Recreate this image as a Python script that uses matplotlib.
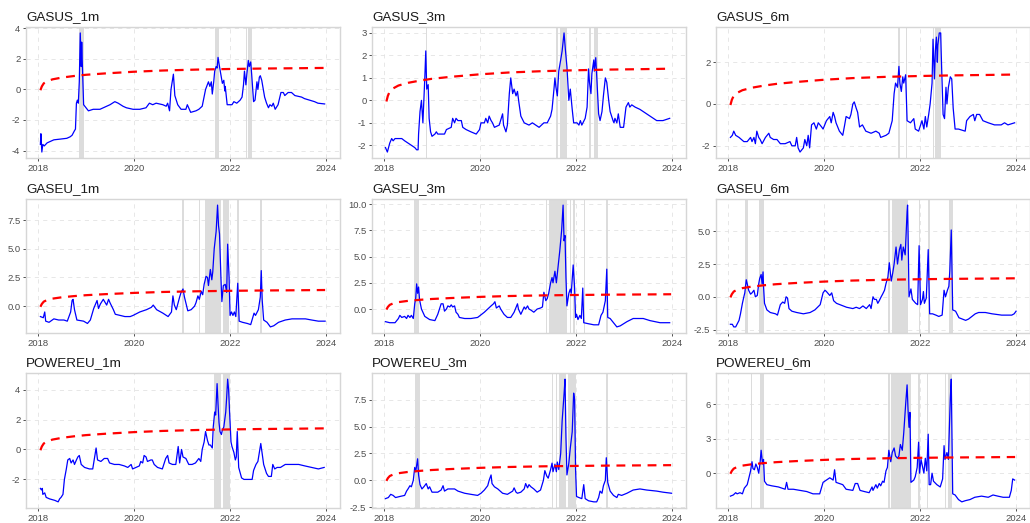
import matplotlib
matplotlib.use("Agg")
from matplotlib import pyplot as plt

plt.rcParams["font.family"] = ["Liberation Sans", "DejaVu Sans"]
plt.rcParams["axes.unicode_minus"] = False

# critical value sequence (shared by all series)
cv_t = [2018.05, 2018.08, 2018.12, 2018.18, 2018.30, 2018.50, 2018.75, 2019.00,
        2019.40, 2020.00, 2020.60, 2021.30, 2022.00, 2022.70, 2023.40, 2023.98]
cv_v = [-0.05, 0.20, 0.40, 0.52, 0.66, 0.78, 0.88, 0.96,
        1.05, 1.16, 1.24, 1.30, 1.34, 1.37, 1.39, 1.41]

# ---- GASUS_1m
gasus_1m_t = [2018.05, 2018.06, 2018.08, 2018.10, 2018.13, 2018.19, 2018.33, 2018.47, 2018.60, 2018.67,
              2018.71, 2018.76, 2018.78, 2018.80, 2018.82, 2018.84, 2018.86, 2018.88, 2018.90, 2018.91,
              2018.93, 2018.95, 2019.05, 2019.15, 2019.29, 2019.36, 2019.50, 2019.60, 2019.67, 2019.77,
              2019.84, 2019.98, 2020.12, 2020.25, 2020.32, 2020.39, 2020.46, 2020.60, 2020.67, 2020.70,
              2020.74, 2020.77, 2020.82, 2020.85, 2020.91, 2020.98, 2021.08, 2021.11, 2021.18, 2021.29,
              2021.35, 2021.42, 2021.49, 2021.55, 2021.58, 2021.61, 2021.63, 2021.66, 2021.68, 2021.71,
              2021.73, 2021.75, 2021.78, 2021.84, 2021.87, 2021.89, 2021.90, 2021.94, 2022.04, 2022.08,
              2022.14, 2022.21, 2022.25, 2022.28, 2022.30, 2022.33, 2022.35, 2022.38, 2022.40, 2022.43,
              2022.45, 2022.49, 2022.52, 2022.56, 2022.58, 2022.61, 2022.63, 2022.66, 2022.72, 2022.76,
              2022.80, 2022.83, 2022.87, 2022.90, 2022.94, 2023.00, 2023.06, 2023.11, 2023.14, 2023.21,
              2023.28, 2023.35, 2023.49, 2023.55, 2023.76, 2023.83, 2023.97]
gasus_1m_v = [-3.6, -2.9, -4.1, -3.6, -3.7, -3.5, -3.3, -3.25, -3.2, -3.1,
              -3.0, -2.7, -2.6, -0.9, -0.7, -0.9, 0.5, 3.7, 1.5, 3.1,
              1.0, -1.0, -1.4, -1.3, -1.3, -1.2, -1.0, -0.8, -0.9, -1.1,
              -1.2, -1.3, -1.3, -1.2, -0.9, -1.0, -0.9, -1.0, -1.1, -0.9,
              -1.4, 0.0, 1.0, -0.4, -1.0, -1.3, -1.3, -1.0, -1.5, -1.4,
              -1.3, -1.1, 0.0, 0.5, 0.2, 0.5, -0.3, 0.5, 1.2, 1.5,
              1.4, 2.1, 1.5, 0.4, 0.6, -0.1, 0.2, -1.0, -1.0, -0.8,
              -0.9, -0.7, -0.5, 0.3, 1.2, 0.3, 1.0, 1.9, 1.5, 1.8,
              1.0, -0.8, -0.7, 0.5, 0.0, 0.8, 0.9, 0.6, -0.5, -0.9,
              -1.2, -1.0, -1.1, -0.9, -1.3, -1.0, -0.2, -0.2, -0.4, -0.2,
              -0.2, -0.4, -0.5, -0.6, -0.8, -0.9, -0.95]
gasus_1m_spans = [(2018.85, 2018.95), (2021.69, 2021.78), (2022.33, 2022.36), (2022.38, 2022.45)]

# ---- GASUS_3m
gasus_3m_t = [2018.03, 2018.07, 2018.12, 2018.16, 2018.19, 2018.23, 2018.30, 2018.37, 2018.43, 2018.50,
              2018.57, 2018.64, 2018.68, 2018.71, 2018.72, 2018.75, 2018.78, 2018.81, 2018.83, 2018.85,
              2018.87, 2018.89, 2018.92, 2018.94, 2018.97, 2019.00, 2019.06, 2019.09, 2019.12, 2019.26,
              2019.30, 2019.40, 2019.43, 2019.47, 2019.50, 2019.54, 2019.61, 2019.64, 2019.71, 2019.81,
              2019.92, 2019.99, 2020.02, 2020.09, 2020.12, 2020.16, 2020.19, 2020.23, 2020.26, 2020.30,
              2020.40, 2020.47, 2020.49, 2020.54, 2020.57, 2020.61, 2020.64, 2020.68, 2020.71, 2020.75,
              2020.78, 2020.81, 2020.85, 2020.92, 2021.02, 2021.09, 2021.16, 2021.23, 2021.33, 2021.40,
              2021.47, 2021.50, 2021.54, 2021.56, 2021.58, 2021.61, 2021.64, 2021.68, 2021.71, 2021.73,
              2021.75, 2021.78, 2021.81, 2021.85, 2021.88, 2021.92, 2021.95, 2022.02, 2022.06, 2022.09,
              2022.12, 2022.19, 2022.23, 2022.26, 2022.28, 2022.31, 2022.33, 2022.37, 2022.38, 2022.41,
              2022.43, 2022.47, 2022.50, 2022.54, 2022.57, 2022.61, 2022.64, 2022.68, 2022.71, 2022.77,
              2022.79, 2022.81, 2022.85, 2022.88, 2022.92, 2022.99, 2023.04, 2023.09, 2023.12, 2023.16,
              2023.23, 2023.33, 2023.47, 2023.68, 2023.81, 2023.95]
gasus_3m_v = [-2.1, -2.3, -1.9, -1.7, -1.8, -1.7, -1.7, -1.7, -1.8, -1.9,
              -2.0, -2.1, -2.2, -2.2, -1.5, -0.5, 0.0, -1.0, 0.0, 1.0,
              2.2, 0.5, 0.7, -0.8, -1.4, -1.6, -1.5, -1.4, -1.5, -1.5,
              -1.3, -1.2, -0.8, -1.0, -0.8, -0.9, -0.9, -1.2, -1.3, -1.4,
              -1.5, -1.3, -1.0, -1.0, -0.8, -1.0, -0.7, -0.9, -1.0, -1.2,
              -1.1, -0.6, -1.1, -1.4, -1.1, 0.3, 1.0, 0.3, 0.5, 0.2,
              0.4, -0.1, -0.7, -1.0, -1.1, -1.0, -1.1, -1.2, -1.0, -1.0,
              -0.7, -0.4, 0.5, 1.0, 0.6, 0.2, 1.3, 1.8, 2.2, 2.6,
              3.0, 2.2, 1.5, 0.0, 0.5, -0.4, -1.0, -1.0, -1.1, -0.9,
              -1.1, -0.8, -0.3, 1.4, 0.8, 0.3, 1.2, 1.8, 1.3, 1.9,
              1.1, -0.6, -0.9, -0.5, 0.2, 1.0, 0.8, 0.0, -0.5, -0.9,
              -1.0, -0.8, -1.0, -0.6, -1.2, -1.2, -0.3, -0.1, -0.3, -0.2,
              -0.3, -0.4, -0.6, -0.9, -0.9, -0.8]
gasus_3m_spans = [(2018.87, 2018.90), (2021.59, 2021.63), (2021.66, 2021.81),
                  (2022.28, 2022.31), (2022.38, 2022.45)]

# ---- GASUS_6m
gasus_6m_t = [2018.05, 2018.09, 2018.12, 2018.16, 2018.23, 2018.33, 2018.40, 2018.47, 2018.50, 2018.54,
              2018.57, 2018.60, 2018.64, 2018.67, 2018.71, 2018.78, 2018.85, 2018.88, 2018.95, 2019.02,
              2019.09, 2019.19, 2019.29, 2019.33, 2019.40, 2019.43, 2019.46, 2019.50, 2019.57, 2019.60,
              2019.64, 2019.67, 2019.70, 2019.74, 2019.79, 2019.84, 2019.88, 2019.95, 2019.98, 2020.05,
              2020.12, 2020.15, 2020.19, 2020.22, 2020.25, 2020.32, 2020.39, 2020.43, 2020.46, 2020.53,
              2020.56, 2020.60, 2020.63, 2020.67, 2020.70, 2020.74, 2020.80, 2020.87, 2020.98, 2021.08,
              2021.15, 2021.18, 2021.29, 2021.35, 2021.42, 2021.46, 2021.49, 2021.53, 2021.56, 2021.58,
              2021.61, 2021.64, 2021.66, 2021.70, 2021.73, 2021.80, 2021.87, 2021.90, 2021.97, 2022.04,
              2022.08, 2022.11, 2022.14, 2022.18, 2022.21, 2022.25, 2022.27, 2022.30, 2022.32, 2022.34,
              2022.36, 2022.37, 2022.40, 2022.43, 2022.44, 2022.45, 2022.48, 2022.51, 2022.54, 2022.56,
              2022.59, 2022.63, 2022.66, 2022.69, 2022.73, 2022.80, 2022.94, 2022.97, 2023.04, 2023.11,
              2023.14, 2023.18, 2023.24, 2023.31, 2023.42, 2023.55, 2023.69, 2023.76, 2023.83, 2023.97]
gasus_6m_v = [-1.6, -1.5, -1.3, -1.5, -1.6, -1.8, -1.8, -1.6, -1.8, -1.6,
              -1.9, -1.3, -1.6, -1.7, -1.9, -1.6, -1.4, -1.6, -1.7, -1.7,
              -1.9, -1.9, -1.8, -2.0, -2.0, -1.6, -2.1, -2.3, -2.1, -1.7,
              -2.0, -1.5, -2.1, -1.0, -0.9, -1.2, -0.9, -1.1, -1.2, -0.8,
              -0.6, -0.9, -0.4, -0.6, -0.9, -1.3, -1.5, -1.0, -0.6, -0.7,
              -0.5, 0.0, 0.1, -0.2, -0.4, -1.1, -1.0, -1.3, -1.4, -1.3,
              -1.4, -1.6, -1.5, -1.4, -0.8, 0.5, 1.0, 0.8, 1.8, 1.0,
              0.6, 1.3, 1.0, 1.4, -0.8, -0.9, -0.7, -1.2, -1.3, -0.8,
              -1.2, -0.6, -1.1, -0.5, 0.0, 1.0, 3.1, 1.2, 2.6, 3.2,
              2.0, 2.8, 3.4, 3.4, 2.5, 1.7, -0.5, -0.7, 0.8, 0.0,
              0.8, 1.3, 1.2, -0.2, -1.2, -1.2, -1.3, -0.8, -0.6, -0.5,
              -0.8, -0.5, -0.5, -0.8, -0.9, -1.0, -1.0, -0.9, -1.0, -0.9]
gasus_6m_spans = [(2021.55, 2021.58), (2021.70, 2021.73), (2022.26, 2022.30), (2022.31, 2022.44)]

# ---- GASEU_1m
gaseu_1m_t = [2018.05, 2018.11, 2018.14, 2018.16, 2018.23, 2018.33, 2018.43, 2018.54, 2018.61, 2018.68,
              2018.71, 2018.73, 2018.76, 2018.81, 2018.95, 2019.03, 2019.09, 2019.16, 2019.23, 2019.26,
              2019.30, 2019.36, 2019.43, 2019.47, 2019.50, 2019.57, 2019.61, 2019.71, 2019.81, 2019.92,
              2019.98, 2020.12, 2020.26, 2020.36, 2020.40, 2020.47, 2020.60, 2020.71, 2020.78, 2020.81,
              2020.84, 2020.88, 2020.95, 2020.98, 2021.02, 2021.05, 2021.12, 2021.19, 2021.26, 2021.29,
              2021.33, 2021.36, 2021.40, 2021.43, 2021.46, 2021.50, 2021.53, 2021.55, 2021.59, 2021.62,
              2021.64, 2021.67, 2021.71, 2021.74, 2021.76, 2021.78, 2021.81, 2021.83, 2021.86, 2021.90,
              2021.93, 2021.95, 2021.98, 2022.00, 2022.03, 2022.06, 2022.09, 2022.12, 2022.16, 2022.19,
              2022.26, 2022.36, 2022.43, 2022.50, 2022.53, 2022.59, 2022.63, 2022.65, 2022.67, 2022.70,
              2022.77, 2022.84, 2022.91, 2023.01, 2023.15, 2023.29, 2023.43, 2023.57, 2023.70, 2023.84,
              2023.98]
gaseu_1m_v = [-0.9, -1.0, -0.5, -1.3, -1.4, -1.1, -1.2, -1.2, -1.3, -0.5,
              0.5, 0.6, -0.3, -1.2, -1.3, -1.5, -1.2, -0.2, 0.5, -0.2,
              0.2, 0.6, 0.1, 0.6, 0.3, -0.3, -0.7, -0.8, -0.9, -0.9,
              -0.8, -0.5, -0.3, -0.1, 0.1, -0.3, -0.6, -0.9, -0.5, 0.9,
              0.1, -0.3, 0.8, 1.2, 1.5, 0.8, -0.4, -0.3, 0.0, 0.3,
              0.9, 0.6, 1.3, 1.0, 1.9, 2.6, 2.5, 1.8, 3.2, 2.3,
              3.0, 5.0, 6.5, 8.8, 7.0, 6.3, 2.5, 0.4, 1.8, 1.9,
              1.2, 5.4, 2.5, -0.8, -0.5, -0.8, -0.5, -0.9, 2.0, -1.3,
              -1.4, -1.5, -1.6, -0.6, -0.8, -0.3, 0.8, 3.1, 0.5, -1.2,
              -1.4, -1.8, -1.7, -1.4, -1.2, -1.1, -1.1, -1.1, -1.2, -1.3,
              -1.3]
gaseu_1m_spans = [(2021.00, 2021.05), (2021.35, 2021.38), (2021.47, 2021.81),
                  (2021.86, 2021.97), (2022.15, 2022.18), (2022.63, 2022.66)]

# ---- GASEU_3m
gaseu_3m_t = [2018.03, 2018.12, 2018.23, 2018.30, 2018.33, 2018.37, 2018.43, 2018.47, 2018.50, 2018.54,
              2018.57, 2018.61, 2018.64, 2018.66, 2018.68, 2018.70, 2018.72, 2018.74, 2018.78, 2018.85,
              2018.95, 2019.06, 2019.12, 2019.19, 2019.23, 2019.26, 2019.30, 2019.33, 2019.37, 2019.40,
              2019.43, 2019.47, 2019.50, 2019.54, 2019.57, 2019.68, 2019.81, 2019.95, 2020.09, 2020.23,
              2020.28, 2020.31, 2020.34, 2020.40, 2020.43, 2020.50, 2020.57, 2020.64, 2020.71, 2020.78,
              2020.80, 2020.85, 2020.92, 2020.95, 2020.99, 2021.02, 2021.06, 2021.12, 2021.19, 2021.26,
              2021.30, 2021.33, 2021.37, 2021.40, 2021.43, 2021.47, 2021.50, 2021.52, 2021.56, 2021.59,
              2021.62, 2021.66, 2021.70, 2021.73, 2021.75, 2021.77, 2021.79, 2021.81, 2021.85, 2021.88,
              2021.90, 2021.94, 2021.97, 2021.99, 2022.01, 2022.04, 2022.08, 2022.11, 2022.14, 2022.16,
              2022.26, 2022.37, 2022.47, 2022.52, 2022.56, 2022.61, 2022.64, 2022.66, 2022.71, 2022.78,
              2022.85, 2022.92, 2023.06, 2023.19, 2023.40, 2023.54, 2023.75, 2023.95]
gaseu_3m_v = [-1.2, -1.3, -1.3, -0.9, -0.6, -0.8, -0.7, -0.9, -0.6, -0.8,
              -0.6, -0.9, 0.5, 1.0, 2.4, 1.5, 2.1, 0.9, 0.0, -0.7,
              -1.0, -1.1, -0.5, 0.5, 0.5, -0.2, 0.0, 0.3, 0.2, 0.4,
              0.2, 0.3, -0.3, -0.5, -0.8, -0.9, -0.9, -0.8, -0.3, 0.3,
              0.5, 0.7, 0.1, 0.3, 0.0, -0.5, -0.8, -0.8, -0.3, 0.5,
              0.0, -0.5, 0.2, 0.0, 0.3, 0.0, -0.1, -0.3, 0.0, 0.1,
              0.2, 1.6, 0.8, 1.0, 1.5, 2.5, 3.0, 2.5, 3.6, 2.5,
              3.8, 5.5, 7.5, 9.9, 6.5, 7.0, 3.0, 0.3, 1.5, 1.9,
              1.5, 4.2, 2.0, -0.8, -0.5, -1.0, -0.6, -0.9, 2.0, -1.3,
              -1.4, -1.5, -1.5, -0.6, -0.3, 0.8, 3.8, -0.8, -0.9, -1.3,
              -1.7, -1.6, -1.2, -0.9, -0.9, -1.1, -1.3, -1.3]
gaseu_3m_spans = [(2018.63, 2018.73), (2021.37, 2021.40), (2021.43, 2021.81), (2021.87, 2021.90),
                  (2021.93, 2021.98), (2022.16, 2022.19), (2022.62, 2022.66)]

# ---- GASEU_6m
gaseu_6m_t = [2018.05, 2018.09, 2018.12, 2018.16, 2018.23, 2018.26, 2018.30, 2018.33, 2018.35, 2018.38,
              2018.40, 2018.43, 2018.47, 2018.50, 2018.54, 2018.57, 2018.61, 2018.64, 2018.66, 2018.69,
              2018.71, 2018.73, 2018.74, 2018.76, 2018.81, 2018.88, 2018.99, 2019.03, 2019.09, 2019.14,
              2019.18, 2019.21, 2019.24, 2019.27, 2019.33, 2019.43, 2019.57, 2019.71, 2019.81, 2019.92,
              2019.98, 2020.02, 2020.05, 2020.12, 2020.16, 2020.20, 2020.26, 2020.33, 2020.47, 2020.60,
              2020.67, 2020.74, 2020.81, 2020.88, 2020.95, 2020.98, 2021.02, 2021.05, 2021.09, 2021.12,
              2021.15, 2021.19, 2021.22, 2021.26, 2021.29, 2021.33, 2021.36, 2021.40, 2021.43, 2021.46,
              2021.50, 2021.53, 2021.57, 2021.60, 2021.62, 2021.65, 2021.69, 2021.71, 2021.73, 2021.74,
              2021.75, 2021.77, 2021.81, 2021.84, 2021.91, 2021.95, 2021.98, 2022.01, 2022.05, 2022.07,
              2022.09, 2022.13, 2022.17, 2022.20, 2022.26, 2022.33, 2022.39, 2022.46, 2022.50, 2022.53,
              2022.57, 2022.60, 2022.62, 2022.65, 2022.68, 2022.74, 2022.81, 2022.88, 2022.95, 2023.01,
              2023.08, 2023.15, 2023.22, 2023.36, 2023.50, 2023.70, 2023.91, 2023.96, 2024.00]
gaseu_6m_v = [-2.1, -2.1, -2.3, -2.3, -1.8, -1.3, -0.5, 0.0, 0.3, 1.3,
              1.0, 0.5, 0.2, 0.3, 0.5, 0.0, 0.1, 1.0, 1.4, 1.7,
              1.0, 1.9, 0.8, -0.5, -1.0, -1.2, -1.3, -1.4, -0.6, -0.4,
              -0.5, 0.0, -0.1, -0.9, -1.1, -1.2, -1.3, -1.2, -1.0, -0.6,
              0.3, 0.5, 0.4, 0.1, 0.3, -0.3, -0.5, -0.6, -0.8, -0.9,
              -0.8, -0.9, -0.7, -0.9, -0.6, -0.9, 0.0, -0.2, -0.2, -0.5,
              -0.3, 0.0, 0.2, 0.5, 1.0, 1.5, 2.6, 1.2, 1.8, 2.5,
              3.8, 2.5, 3.6, 4.0, 2.8, 3.8, 3.2, 4.8, 6.5, 7.0,
              5.0, 0.0, 0.6, -0.2, -0.5, -0.6, 3.9, -0.6, -0.2, 0.4,
              -0.5, -0.1, 3.6, -1.3, -1.3, -1.4, -1.5, -1.4, 0.5, 0.0,
              0.5, 0.8, 2.0, 5.1, -1.0, -1.1, -1.6, -1.7, -1.8, -1.7,
              -1.5, -1.3, -1.2, -1.2, -1.3, -1.4, -1.4, -1.3, -1.1]
gaseu_6m_spans = [(2018.35, 2018.41), (2018.65, 2018.74), (2021.33, 2021.38), (2021.42, 2021.75),
                  (2021.97, 2022.00), (2022.17, 2022.20), (2022.61, 2022.68)]

# ---- POWEREU_1m
powereu_1m_t = [2018.05, 2018.07, 2018.09, 2018.10, 2018.14, 2018.17, 2018.24, 2018.35, 2018.42, 2018.45,
                2018.48, 2018.52, 2018.55, 2018.59, 2018.62, 2018.66, 2018.69, 2018.73, 2018.76, 2018.80,
                2018.83, 2018.86, 2018.90, 2018.97, 2019.07, 2019.14, 2019.18, 2019.21, 2019.24, 2019.31,
                2019.38, 2019.45, 2019.49, 2019.59, 2019.69, 2019.80, 2019.87, 2019.94, 2019.97, 2020.04,
                2020.11, 2020.14, 2020.18, 2020.21, 2020.25, 2020.28, 2020.35, 2020.38, 2020.42, 2020.49,
                2020.59, 2020.66, 2020.70, 2020.73, 2020.80, 2020.87, 2020.92, 2020.95, 2020.99, 2021.02,
                2021.08, 2021.14, 2021.21, 2021.28, 2021.35, 2021.39, 2021.42, 2021.46, 2021.49, 2021.53,
                2021.56, 2021.59, 2021.63, 2021.65, 2021.68, 2021.70, 2021.73, 2021.75, 2021.77, 2021.79,
                2021.82, 2021.84, 2021.87, 2021.91, 2021.93, 2021.95, 2021.97, 2021.99, 2022.02, 2022.04,
                2022.08, 2022.11, 2022.13, 2022.15, 2022.18, 2022.24, 2022.29, 2022.39, 2022.46, 2022.49,
                2022.54, 2022.58, 2022.62, 2022.64, 2022.67, 2022.70, 2022.76, 2022.80, 2022.86, 2022.89,
                2022.93, 2022.98, 2023.05, 2023.15, 2023.29, 2023.43, 2023.56, 2023.70, 2023.84, 2023.96]
powereu_1m_v = [-2.6, -2.7, -2.6, -3.0, -2.9, -3.2, -3.3, -3.4, -3.5, -3.3,
                -3.2, -3.0, -2.0, -1.3, -0.7, -0.6, -0.9, -0.7, -1.0, -0.7,
                -0.5, -0.4, -1.0, -1.2, -1.3, -1.3, -0.5, 0.1, -0.7, -0.8,
                -0.6, -0.6, -0.9, -1.0, -1.0, -1.1, -1.2, -1.0, -1.3, -1.2,
                -1.1, -0.8, -0.9, -0.4, -0.5, -0.8, -0.7, -0.7, -1.0, -1.2,
                -1.3, -0.6, -0.4, -0.9, -1.0, -1.0, 0.2, -0.9, 0.0, -0.5,
                -0.6, -1.0, -1.0, -0.9, -0.6, -0.8, 0.0, 0.5, 1.2, 0.6,
                0.3, 0.3, 0.1, 1.5, 2.5, 2.3, 4.4, 3.0, 1.8, 1.2,
                1.0, 1.3, 1.5, 2.5, 3.5, 4.7, 4.0, 2.5, 0.5, 0.2,
                -0.2, -0.7, -0.5, 1.2, -1.2, -1.9, -2.0, -2.0, -2.0, -1.4,
                -1.0, -0.8, 0.0, 0.4, -0.3, -1.0, -1.6, -1.8, -1.8, -1.0,
                -1.3, -1.2, -1.2, -1.0, -1.0, -1.0, -1.1, -1.2, -1.3, -1.2]
powereu_1m_spans = [(2021.67, 2021.81), (2021.86, 2021.99)]

# ---- POWEREU_3m
powereu_3m_t = [2018.03, 2018.09, 2018.14, 2018.19, 2018.24, 2018.33, 2018.43, 2018.47, 2018.50, 2018.54,
                2018.57, 2018.61, 2018.64, 2018.66, 2018.68, 2018.70, 2018.72, 2018.75, 2018.79, 2018.83,
                2018.88, 2018.92, 2018.95, 2019.00, 2019.12, 2019.19, 2019.23, 2019.26, 2019.33, 2019.40,
                2019.47, 2019.54, 2019.68, 2019.81, 2019.95, 2020.02, 2020.09, 2020.16, 2020.19, 2020.23,
                2020.25, 2020.30, 2020.37, 2020.47, 2020.57, 2020.68, 2020.71, 2020.75, 2020.78, 2020.85,
                2020.92, 2020.95, 2020.99, 2021.02, 2021.06, 2021.12, 2021.19, 2021.26, 2021.32, 2021.35,
                2021.39, 2021.42, 2021.47, 2021.50, 2021.52, 2021.56, 2021.59, 2021.61, 2021.64, 2021.68,
                2021.71, 2021.75, 2021.77, 2021.79, 2021.81, 2021.85, 2021.88, 2021.92, 2021.95, 2021.97,
                2021.99, 2022.01, 2022.06, 2022.12, 2022.16, 2022.19, 2022.26, 2022.37, 2022.43, 2022.47,
                2022.50, 2022.54, 2022.57, 2022.61, 2022.63, 2022.66, 2022.71, 2022.78, 2022.85, 2022.88,
                2022.95, 2023.06, 2023.19, 2023.33, 2023.47, 2023.68, 2023.81, 2023.99]
powereu_3m_v = [-1.7, -1.6, -1.3, -1.4, -1.6, -1.5, -1.4, -1.0, -0.8, -0.5,
                -0.6, 0.0, 1.2, 0.8, 1.4, 2.0, 0.5, -0.4, -0.8, -0.6,
                -0.3, -0.8, -0.6, -1.1, -1.1, -0.9, -0.5, -1.0, -0.8, -0.8,
                -0.8, -1.0, -1.2, -1.3, -1.4, -1.2, -0.9, -0.5, 0.0, 0.5,
                -0.3, -0.6, -0.8, -1.2, -1.3, -1.0, -0.7, -1.1, -1.2, -1.1,
                -0.8, -0.3, -0.7, -0.4, -0.6, -0.8, -1.1, -0.9, 0.0, 0.9,
                0.4, 0.2, 1.0, 1.6, 0.8, 1.5, 0.8, 1.7, 1.0, 2.5,
                5.5, 8.0, 9.4, 4.0, 0.5, 1.6, 3.0, 4.5, 8.1, 7.5,
                1.0, -1.5, -1.6, -1.7, -0.4, -1.7, -1.9, -2.0, -2.0, -1.6,
                -1.0, -1.2, -0.5, 0.0, 2.1, -0.2, -1.0, -1.4, -1.6, -1.3,
                -1.4, -1.2, -0.9, -0.8, -0.9, -1.0, -1.1, -1.2]
powereu_3m_spans = [(2018.65, 2018.74), (2021.50, 2021.52), (2021.58, 2021.61),
                    (2021.64, 2021.80), (2021.84, 2021.99), (2022.63, 2022.66)]

# ---- POWEREU_6m
powereu_6m_t = [2018.05, 2018.11, 2018.16, 2018.19, 2018.25, 2018.30, 2018.34, 2018.40, 2018.43, 2018.47,
                2018.50, 2018.52, 2018.55, 2018.58, 2018.61, 2018.64, 2018.67, 2018.69, 2018.72, 2018.74,
                2018.76, 2018.81, 2018.91, 2019.05, 2019.19, 2019.22, 2019.25, 2019.36, 2019.50, 2019.64,
                2019.77, 2019.91, 2019.98, 2020.05, 2020.12, 2020.19, 2020.22, 2020.25, 2020.32, 2020.39,
                2020.46, 2020.60, 2020.65, 2020.70, 2020.75, 2020.84, 2020.94, 2021.00, 2021.02, 2021.08,
                2021.11, 2021.15, 2021.18, 2021.22, 2021.25, 2021.29, 2021.32, 2021.35, 2021.39, 2021.42,
                2021.46, 2021.49, 2021.53, 2021.56, 2021.59, 2021.63, 2021.66, 2021.70, 2021.73, 2021.75,
                2021.77, 2021.79, 2021.81, 2021.87, 2021.90, 2021.94, 2021.97, 2021.99, 2022.02, 2022.04,
                2022.08, 2022.11, 2022.14, 2022.17, 2022.19, 2022.22, 2022.25, 2022.28, 2022.35, 2022.42,
                2022.47, 2022.50, 2022.52, 2022.56, 2022.59, 2022.63, 2022.65, 2022.68, 2022.73, 2022.80,
                2022.87, 2022.94, 2023.04, 2023.14, 2023.28, 2023.42, 2023.52, 2023.62, 2023.73, 2023.86,
                2023.90, 2023.93, 2023.97]
powereu_6m_v = [-2.0, -1.9, -1.7, -1.8, -1.7, -1.8, -1.3, -1.0, -0.5, 0.2,
                1.0, 0.4, 0.3, 0.8, 0.5, 0.0, 1.0, 2.0, 0.8, 1.2,
                -0.7, -1.0, -1.1, -1.2, -1.4, -0.8, -1.4, -1.4, -1.5, -1.6,
                -1.8, -1.8, -0.8, -0.6, -0.4, -0.6, 0.3, -0.8, -0.9, -1.0,
                -1.4, -1.5, -0.9, -0.9, -1.5, -1.6, -1.7, -1.2, -1.5, -1.0,
                -1.3, -0.9, -1.1, -0.7, -0.8, 0.2, 0.5, 2.0, 1.0, 1.8,
                2.2, 1.5, 1.3, 1.5, 2.5, 2.0, 3.5, 6.0, 7.7, 5.5,
                4.0, 5.3, -0.8, -0.6, -0.3, 0.5, 2.7, 0.0, 1.2, 0.8,
                0.0, 1.3, 0.2, 3.4, -1.0, -1.0, 0.0, -0.7, -1.0, -1.2,
                -0.5, 2.4, 1.2, 1.8, 1.2, 6.5, 8.2, -1.8, -1.9, -2.3,
                -2.5, -2.4, -2.3, -2.1, -2.0, -2.1, -1.9, -2.0, -2.1, -2.1,
                -1.5, -0.5, -0.6]
powereu_6m_spans = [(2018.48, 2018.51), (2018.66, 2018.74), (2021.33, 2021.37), (2021.40, 2021.82),
                    (2021.96, 2021.99), (2022.14, 2022.17), (2022.52, 2022.55), (2022.58, 2022.66)]

panels = [
    ("GASUS_1m", gasus_1m_t, gasus_1m_v, gasus_1m_spans, [-4, -2, 0, 2, 4]),
    ("GASUS_3m", gasus_3m_t, gasus_3m_v, gasus_3m_spans, [-2, -1, 0, 1, 2, 3]),
    ("GASUS_6m", gasus_6m_t, gasus_6m_v, gasus_6m_spans, [-2, 0, 2]),
    ("GASEU_1m", gaseu_1m_t, gaseu_1m_v, gaseu_1m_spans, [0.0, 2.5, 5.0, 7.5]),
    ("GASEU_3m", gaseu_3m_t, gaseu_3m_v, gaseu_3m_spans, [0.0, 2.5, 5.0, 7.5, 10.0]),
    ("GASEU_6m", gaseu_6m_t, gaseu_6m_v, gaseu_6m_spans, [-2.5, 0.0, 2.5, 5.0]),
    ("POWEREU_1m", powereu_1m_t, powereu_1m_v, powereu_1m_spans, [-2, 0, 2, 4]),
    ("POWEREU_3m", powereu_3m_t, powereu_3m_v, powereu_3m_spans, [-2.5, 0.0, 2.5, 5.0, 7.5]),
    ("POWEREU_6m", powereu_6m_t, powereu_6m_v, powereu_6m_spans, [0, 3, 6]),
]
year_ticks = [2018, 2020, 2022, 2024]

W, H = 1030, 523
fig = plt.figure(figsize=(W / 100, H / 100), dpi=100)
col_left = [26, 372, 716]
row_box = [(27, 158), (199, 333), (373, 508)]
panel_w = 314

for i, (name, t, v, spans, yticks) in enumerate(panels):
    r, c = divmod(i, 3)
    top, bottom = row_box[r]
    ax = fig.add_axes([col_left[c] / W, 1 - bottom / H, panel_w / W, (bottom - top) / H])
    ax.set_facecolor("white")
    for a, b in spans:
        ax.axvspan(a, b, color="#DCDCDC", lw=0, zorder=1)
    ax.plot(t, v, color="blue", lw=0.9, zorder=2)
    ax.plot(cv_t, cv_v, color="red", lw=1.6, ls=(0, (4, 3)), zorder=3)

    lo = min(min(v), min(cv_v))
    hi = max(max(v), max(cv_v))
    pad = (hi - lo) * 0.05
    ax.set_ylim(lo - pad, hi + pad)
    ax.set_xlim(2017.75, 2024.29)

    decimals = any(y != int(y) for y in yticks)
    ax.set_yticks(yticks)
    ax.set_yticklabels([f"{y:.1f}" if decimals else f"{y:.0f}" for y in yticks])
    ax.set_xticks(year_ticks)
    ax.set_xticklabels([str(y) for y in year_ticks])

    ax.grid(True, color="#E3E3E3", lw=0.6, ls=(0, (5, 5)), zorder=0)
    ax.set_axisbelow(True)
    ax.tick_params(length=2.5, width=0.6, color="#333333", labelsize=6.8,
                   labelcolor="#4D4D4D", pad=1.5)
    for s in ax.spines.values():
        s.set_color("#D6D6D6")
        s.set_linewidth(1.0)
    ax.set_title(name, loc="left", fontsize=9.7, pad=5, color="#1A1A1A")

fig.savefig("out.png", dpi=100)
